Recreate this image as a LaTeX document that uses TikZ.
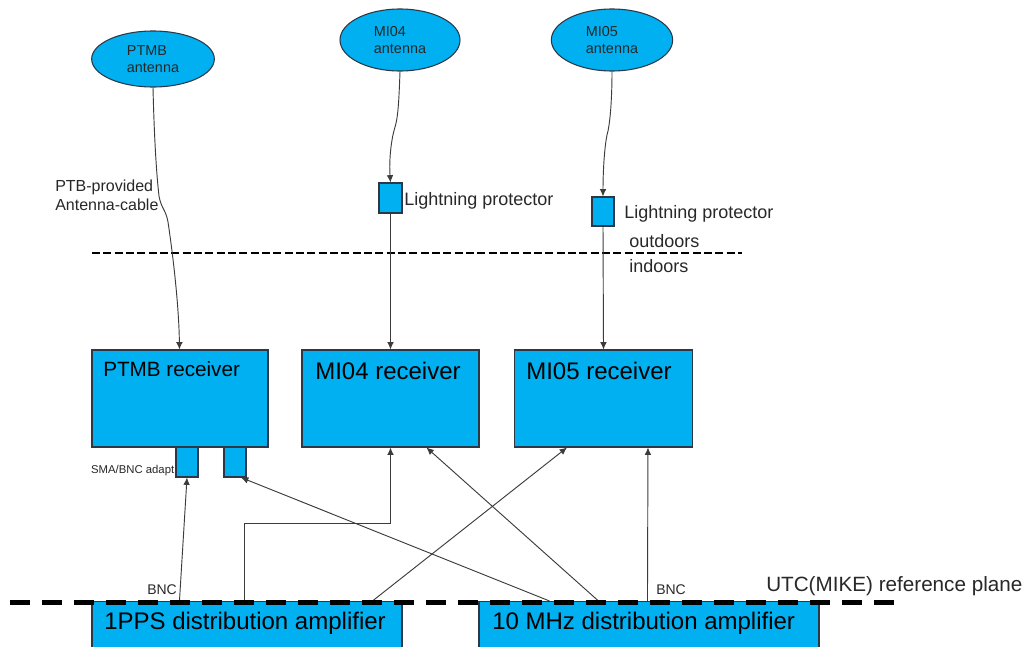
\documentclass[tikz,border=0pt]{standalone}
\usepackage{fontspec}
\setmainfont{Liberation Sans}
\usetikzlibrary{arrows.meta,calc,shapes.geometric}
\definecolor{boxblue}{RGB}{0,176,240}
\definecolor{edgecol}{RGB}{45,55,70}
\definecolor{wirecol}{RGB}{60,60,60}
\definecolor{labcol}{RGB}{40,40,40}
\newcommand{\fsz}[2]{\fontsize{#1}{#2}\selectfont}
\begin{document}
\begin{tikzpicture}[x=0.75pt,y=-0.75pt,
  blk/.style={draw=edgecol, line width=0.8pt, fill=boxblue, rectangle, inner sep=0pt},
  ant/.style={draw=edgecol, line width=0.8pt, fill=boxblue, ellipse, inner sep=0pt,
              align=left, text=labcol, font=\fsz{10.8}{13}},
  txt/.style={inner sep=0pt, anchor=base west},
  wire/.style={draw=wirecol, line width=0.7pt, -{Latex[length=5.5pt,width=5pt]}},
  doorline/.style={draw=black, line width=1.5pt, dash pattern=on 6pt off 2.5pt},
  refline/.style={draw=black, line width=3.75pt, dash pattern=on 15pt off 9pt},
]
\useasboundingbox (0,0) rectangle (1031,646);
\fill[white] (0,0) rectangle (1031,646);

% antennas
\node[ant, minimum width=92pt, minimum height=42pt] (ptmbant) at (153,59) {PTMB\\antenna};
\node[ant, minimum width=90pt, minimum height=46.5pt] (mi04ant) at (400,40) {MI04\\antenna};
\node[ant, minimum width=91pt, minimum height=46.5pt] (mi05ant) at (612,40) {MI05\\antenna};

% lightning protectors
\node[blk, minimum width=17.25pt, minimum height=22.5pt] (prot1) at (390.5,198) {};
\node[blk, minimum width=16.5pt, minimum height=21.75pt] (prot2) at (603,211.5) {};
\node[txt, text=labcol, font=\fsz{13.5}{15}] (prot1l) at (404,205) {Lightning protector};
\node[txt, text=labcol, font=\fsz{13.5}{15}] (prot2l) at (624,218) {Lightning protector};

% PTB cable label
\node[txt, text=labcol, align=left, font=\fsz{12}{14.25}] (cablel) at (55,210) {PTB-provided\\Antenna-cable};

% outdoors / indoors
\coordinate (odL) at (92,253);
\coordinate (odR) at (742,253);
\draw[doorline] (odL) -- (odR);
\node[txt, text=labcol, font=\fsz{13.5}{15}] (outl) at (629,247) {outdoors};
\node[txt, text=labcol, font=\fsz{13.5}{15}] (inl) at (629,272) {indoors};

% receivers
\node[blk, minimum width=132pt, minimum height=72.75pt] (ptmbrx) at (180,398.5) {};
\node[blk, minimum width=132.75pt, minimum height=72.75pt] (mi04rx) at (390.5,398.5) {};
\node[blk, minimum width=133.5pt, minimum height=72.75pt] (mi05rx) at (603.5,398.5) {};
\node[txt, font=\fsz{15.5}{18}] (ptmbrxl) at (103,376) {PTMB receiver};
\node[txt, font=\fsz{18}{20}] (mi04rxl) at (315,379) {MI04 receiver};
\node[txt, font=\fsz{18}{20}] (mi05rxl) at (526,379) {MI05 receiver};

% adapters
\node[blk, minimum width=16.5pt, minimum height=22.5pt] (ad1) at (187,462) {};
\node[blk, minimum width=16.5pt, minimum height=22.5pt] (ad2) at (235,462) {};
\node[inner sep=0pt, anchor=base east, text=labcol, font=\fsz{8.5}{10}] (adl) at (174.5,473) {SMA/BNC adapt};

% distribution amplifiers
\node[blk, minimum width=232.5pt, minimum height=36.75pt] (pps) at (247,626) {};
\node[blk, minimum width=255pt, minimum height=36.75pt] (mhz) at (649,626) {};
\node[txt, font=\fsz{18}{20}] (ppsl) at (104,629) {1PPS distribution amplifier};
\node[txt, font=\fsz{18}{20}] (mhzl) at (492,629) {10 MHz distribution amplifier};

% antenna cables
\draw[wire] (ptmbant.south) .. controls (154,130) and (156,170) .. (159,196)
  .. controls (161,208) and (166,210) .. (168,222)
  .. controls (174,262) and (179,310) .. ($(ptmbrx.north west)+(88,0)$);
\draw[wire] (mi04ant.south) .. controls (399,100) and (398,118) .. (395,127)
  .. controls (391,140) and (389,160) .. (prot1.north);
\draw[wire] (mi05ant.south) .. controls (612,100) and (610,125) .. (607,135)
  .. controls (604,150) and (603,175) .. (prot2.north);
\draw[wire] (prot1.south) -- (mi04rx.north);
\draw[wire] (prot2.south) -- (mi05rx.north);

% 1PPS connections
\draw[wire] ($(pps.north west)+(88,0)$) -- (ad1.south);
\draw[wire] ($(pps.north west)+(153,0)$) |- ($(mi04rx.south)+(0,76)$) -- (mi04rx.south);
\draw[wire] ($(pps.north west)+(281,0)$) -- ($(mi05rx.south west)+(53,0)$);

% 10 MHz connections
\draw[wire] ($(mhz.north west)+(71,0)$) -- ($(ad2.south)+(6,0)$);
\draw[wire] ($(mhz.north west)+(120,0)$) -- ($(mi04rx.south west)+(125,0)$);
\draw[wire] ($(mhz.north west)+(169,0)$) -- ($(mi05rx.south west)+(134,0)$);

% BNC labels
\node[txt, text=labcol, font=\fsz{10.5}{12}] (bnc1) at (147,594) {BNC};
\node[txt, text=labcol, font=\fsz{10.5}{12}] (bnc2) at (656,594) {BNC};

% reference plane
\coordinate (rpL) at (10,602);
\coordinate (rpR) at (894,602);
\draw[refline] (rpL) -- (rpR);
\node[txt, text=labcol, font=\fsz{15.5}{18}] (rpl) at (766,591) {UTC(MIKE) reference plane};
\end{tikzpicture}
\end{document}
